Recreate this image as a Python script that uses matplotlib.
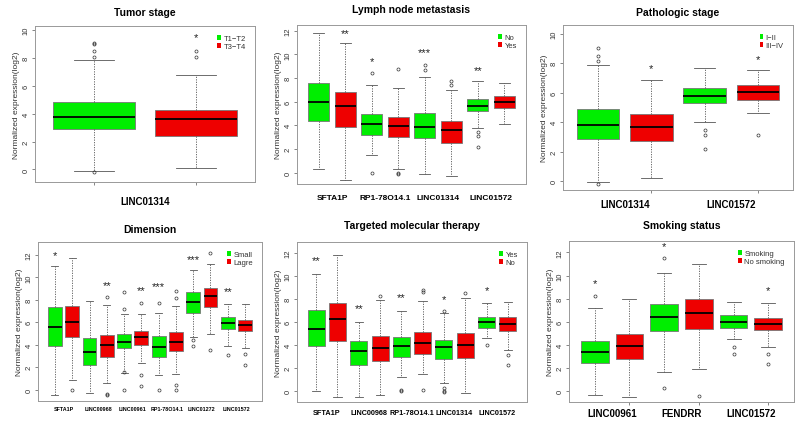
import matplotlib
matplotlib.use("Agg")
import matplotlib.pyplot as plt
from matplotlib import font_manager
from matplotlib.patches import Patch

plt.rcParams["font.family"] = ["Liberation Sans", "DejaVu Sans"]

GREEN = "#00EE00"
RED = "#EE0000"

# ---- Tumor stage ----
tumor_genes = ["LINC01314"]
tumor_groups = ["T1\u2212T2", "T3\u2212T4"]
tumor_q1 = [2.87, 2.43]
tumor_med = [3.78, 3.61]
tumor_q3 = [4.84, 4.29]
tumor_lo = [-0.12, 0.10]
tumor_hi = [7.83, 6.80]
tumor_fliers = [[8.1, 8.5, 9.0, 9.05, -0.2], [8.1, 8.5]]
tumor_stars = {2: ("*", 9.5)}

# ---- Lymph node metastasis ----
lymph_genes = ["SFTA1P", "RP1-78O14.1", "LINC01314", "LINC01572"]
lymph_groups = ["No", "Yes"]
lymph_q1 = [4.37, 3.89, 3.21, 2.99, 2.90, 2.48, 5.24, 5.46]
lymph_med = [5.94, 5.60, 4.08, 3.94, 3.86, 3.60, 5.66, 5.94]
lymph_q3 = [7.55, 6.85, 4.99, 4.68, 5.01, 4.34, 6.23, 6.45]
lymph_lo = [0.28, -0.60, 1.45, 0.31, -0.14, -0.28, 3.77, 4.10]
lymph_hi = [11.77, 11.00, 7.40, 7.13, 8.08, 6.98, 7.72, 7.55]
lymph_fliers = [[], [], [0.0, 8.4], [8.8, 0.0, -0.1], [8.65, 9.1], [7.4, 7.75],
                [3.4, 3.1, 2.2], []]
lymph_stars = {2: ("**", 11.8), 3: ("*", 9.4), 5: ("***", 10.2), 7: ("**", 8.7)}

# ---- Pathologic stage ----
patho_genes = ["LINC01314", "LINC01572"]
patho_groups = ["I\u2212II", "III\u2212IV"]
patho_q1 = [2.85, 2.69, 5.30, 5.48]
patho_med = [3.82, 3.64, 5.75, 6.02]
patho_q3 = [4.89, 4.52, 6.31, 6.54]
patho_lo = [-0.09, 0.18, 3.98, 4.64]
patho_hi = [7.87, 6.86, 7.71, 7.51]
patho_fliers = [[8.17, 8.5, 9.07, -0.2], [], [3.5, 3.1, 2.2], [3.1]]
patho_stars = {2: ("*", 7.65), 4: ("*", 8.3)}

# ---- Dimension ----
dim_genes = ["SFTA1P", "LINC00968", "LINC00961", "RP1-78O14.1", "LINC01272", "LINC01572"]
dim_groups = ["Small", "Lagre"]
dim_q1 = [3.85, 4.66, 2.18, 2.93, 3.67, 4.00, 2.93, 3.43, 6.81, 7.34, 5.37, 5.19]
dim_med = [5.55, 6.06, 3.40, 3.97, 4.21, 4.72, 3.79, 4.27, 7.79, 8.33, 5.91, 5.76]
dim_q3 = [7.34, 7.49, 4.60, 4.84, 4.93, 5.19, 4.75, 5.10, 8.72, 9.04, 6.45, 6.24]
dim_lo = [-0.50, 0.87, -0.27, 0.60, 1.50, 2.42, 1.31, 1.43, 4.69, 4.96, 3.91, 3.67]
dim_hi = [11.00, 11.73, 7.94, 7.52, 6.75, 6.75, 6.80, 7.43, 10.66, 11.19, 7.61, 7.67]
dim_fliers = [[], [0.0], [], [8.24, -0.35, -0.5], [8.69, 7.2, 1.6, 0.0], [7.7, 1.3, 0.3],
              [7.7, 0.0], [8.8, 8.15, 0.4, 0.0], [3.9, 4.4], [12.2, 3.5], [3.1], [3.16, 2.24]]
dim_stars = {1: ("*", 12.0), 4: ("**", 9.3), 6: ("**", 8.9), 7: ("***", 9.2),
             9: ("***", 11.67), 11: ("**", 8.75)}

# ---- Targeted molecular therapy ----
ther_genes = ["SFTA1P", "LINC00968", "RP1-78O14.1", "LINC01314", "LINC01572"]
ther_groups = ["Yes", "No"]
ther_q1 = [3.88, 4.32, 2.26, 2.58, 2.93, 3.19, 2.75, 2.81, 5.48, 5.22]
ther_med = [5.39, 6.20, 3.45, 3.71, 3.88, 4.14, 3.80, 3.94, 5.97, 5.80]
ther_q3 = [6.99, 7.59, 4.32, 4.78, 4.67, 5.10, 4.38, 5.01, 6.43, 6.38]
ther_lo = [-0.06, -0.55, -0.55, -0.35, 1.22, 1.48, 0.64, -0.17, 4.58, 3.51]
ther_hi = [10.12, 11.77, 5.94, 7.91, 6.90, 7.83, 6.72, 8.09, 7.59, 7.71]
ther_fliers = [[], [], [], [8.26], [0.09, -0.05], [8.78, 8.58, 0.03],
               [0.2, 0.0, -0.1, 6.9], [8.52], [3.94], [3.07, 2.26]]
ther_stars = {1: ("**", 11.4), 3: ("**", 7.19), 5: ("**", 8.14), 7: ("*", 8.0), 9: ("*", 8.72)}

# ---- Smoking status ----
smoke_genes = ["LINC00961", "FENDRR", "LINC01572"]
smoke_groups = ["Smoking", "No smoking"]
smoke_q1 = [2.38, 2.75, 5.22, 5.36, 5.48, 5.30]
smoke_med = [3.39, 3.91, 6.43, 6.72, 5.94, 5.80]
smoke_q3 = [4.29, 4.90, 7.54, 7.97, 6.55, 6.32]
smoke_lo = [-0.32, -0.52, 1.68, 1.86, 4.46, 3.83]
smoke_hi = [7.19, 7.94, 10.23, 11.01, 7.74, 7.59]
smoke_fliers = [[8.26], [], [11.5, 0.29], [-0.43], [3.8, 3.19], [3.16, 2.32]]
smoke_stars = {1: ("*", 9.36), 3: ("*", 12.55), 6: ("*", 8.72)}

installed = {f.name for f in font_manager.fontManager.ttflist}
NARROW = "Liberation Sans Narrow" if "Liberation Sans Narrow" in installed else "Liberation Sans"

W, H = 800, 427
fig = plt.figure(figsize=(8, 4.27), dpi=100)


def panel(rect, title, title_y, genes, groups, q1, med, q3, lo, hi, fliers, stars,
          ylim, yticks, label_y, label_fs, ticks_at, label_font="Liberation Sans"):
    left, right, top, bottom = rect
    ax = fig.add_axes([left / W, 1 - bottom / H, (right - left) / W, (bottom - top) / H])
    n = len(q1)
    stats = []
    for i in range(n):
        stats.append(dict(q1=q1[i], med=med[i], q3=q3[i], whislo=lo[i], whishi=hi[i],
                          fliers=fliers[i]))
    pos = list(range(1, n + 1))
    bp = ax.bxp(stats, positions=pos, widths=0.8, patch_artist=True,
                boxprops=dict(edgecolor="#777777", linewidth=0.6),
                medianprops=dict(color="black", linewidth=1.3),
                whiskerprops=dict(color="#555555", linewidth=0.6, linestyle=(0, (1.5, 1.5))),
                capprops=dict(color="#555555", linewidth=0.6),
                flierprops=dict(marker="o", markersize=2.2, markerfacecolor="none",
                                markeredgecolor="#333333", markeredgewidth=0.5))
    for i, b in enumerate(bp["boxes"]):
        b.set_facecolor(GREEN if i % 2 == 0 else RED)
    for k, (s, y) in stars.items():
        ax.text(k, y, s, ha="center", va="center", fontsize=8, color="#222222")
    ax.set_xlim(0.5 - 0.04 * n, n + 0.5 + 0.04 * n)
    ax.set_ylim(*ylim)
    ax.set_yticks(yticks)
    ax.set_yticklabels([str(t) for t in yticks], rotation=90, va="center", fontsize=5.5,
                       color="#333333")
    ax.tick_params(axis="y", length=2.5, width=0.5, pad=1.5, color="#555555")
    ax.set_xticks(ticks_at)
    ax.set_xticklabels([])
    ax.tick_params(axis="x", length=2.5, width=0.5, color="#555555")
    for sp in ax.spines.values():
        sp.set_color("#999999")
        sp.set_linewidth(0.7)
    ax.set_ylabel("Normalized expression(log2)", fontsize=6, color="#333333", labelpad=2)
    # group labels under each pair of boxes
    for j, g in enumerate(genes):
        xd = 2 * j + 1.5
        xf = ax.transData.transform((xd, 0))[0] / fig.dpi / 8
        fig.text(xf, 1 - label_y / H, g, ha="center", va="center", fontsize=label_fs,
                 fontweight="bold", family=[label_font, "DejaVu Sans"])
    fig.text((left + right) / 2 / W, 1 - title_y / H, title, ha="center", va="center",
             fontsize=7.5, fontweight="bold")
    handles = [Patch(facecolor=GREEN, edgecolor="none"), Patch(facecolor=RED, edgecolor="none")]
    ax.legend(handles, groups, loc="upper right", frameon=False, fontsize=5.5,
              handlelength=0.5, handleheight=0.6, handletextpad=0.3, labelspacing=0.05,
              borderaxespad=0.8, labelcolor="#333333")
    return ax


panel((35, 255, 27, 183), "Tumor stage", 13, tumor_genes, tumor_groups,
      tumor_q1, tumor_med, tumor_q3, tumor_lo, tumor_hi, tumor_fliers, tumor_stars,
      (-0.9, 10.3), [0, 2, 4, 6, 8, 10], 202, 7, [1, 2])

panel((297, 526, 26, 185), "Lymph node metastasis", 10, lymph_genes, lymph_groups,
      lymph_q1, lymph_med, lymph_q3, lymph_lo, lymph_hi, lymph_fliers, lymph_stars,
      (-0.96, 12.48), [0, 2, 4, 6, 8, 10, 12], 198, 6, [])

panel((563, 793, 26, 191), "Pathologic stage", 13, patho_genes, patho_groups,
      patho_q1, patho_med, patho_q3, patho_lo, patho_hi, patho_fliers, patho_stars,
      (-0.61, 10.6), [0, 2, 4, 6, 8, 10], 205, 7, [2, 4])

panel((38, 262, 243, 402), "Dimension", 230, dim_genes, dim_groups,
      dim_q1, dim_med, dim_q3, dim_lo, dim_hi, dim_fliers, dim_stars,
      (-1.01, 13.16), [0, 2, 4, 6, 8, 10, 12], 410, 4.6 if NARROW != "Liberation Sans" else 3.9,
      [], label_font=NARROW)

panel((297, 527, 243, 403), "Targeted molecular therapy", 226, ther_genes, ther_groups,
      ther_q1, ther_med, ther_q3, ther_lo, ther_hi, ther_fliers, ther_stars,
      (-0.99, 12.93), [0, 2, 4, 6, 8, 10, 12], 414, 5.2, [])

panel((569, 794, 242, 403), "Smoking status", 226, smoke_genes, smoke_groups,
      smoke_q1, smoke_med, smoke_q3, smoke_lo, smoke_hi, smoke_fliers, smoke_stars,
      (-0.96, 12.99), [0, 2, 4, 6, 8, 10, 12], 414, 7, [2, 4, 6])

fig.savefig("out.png", dpi=100)
